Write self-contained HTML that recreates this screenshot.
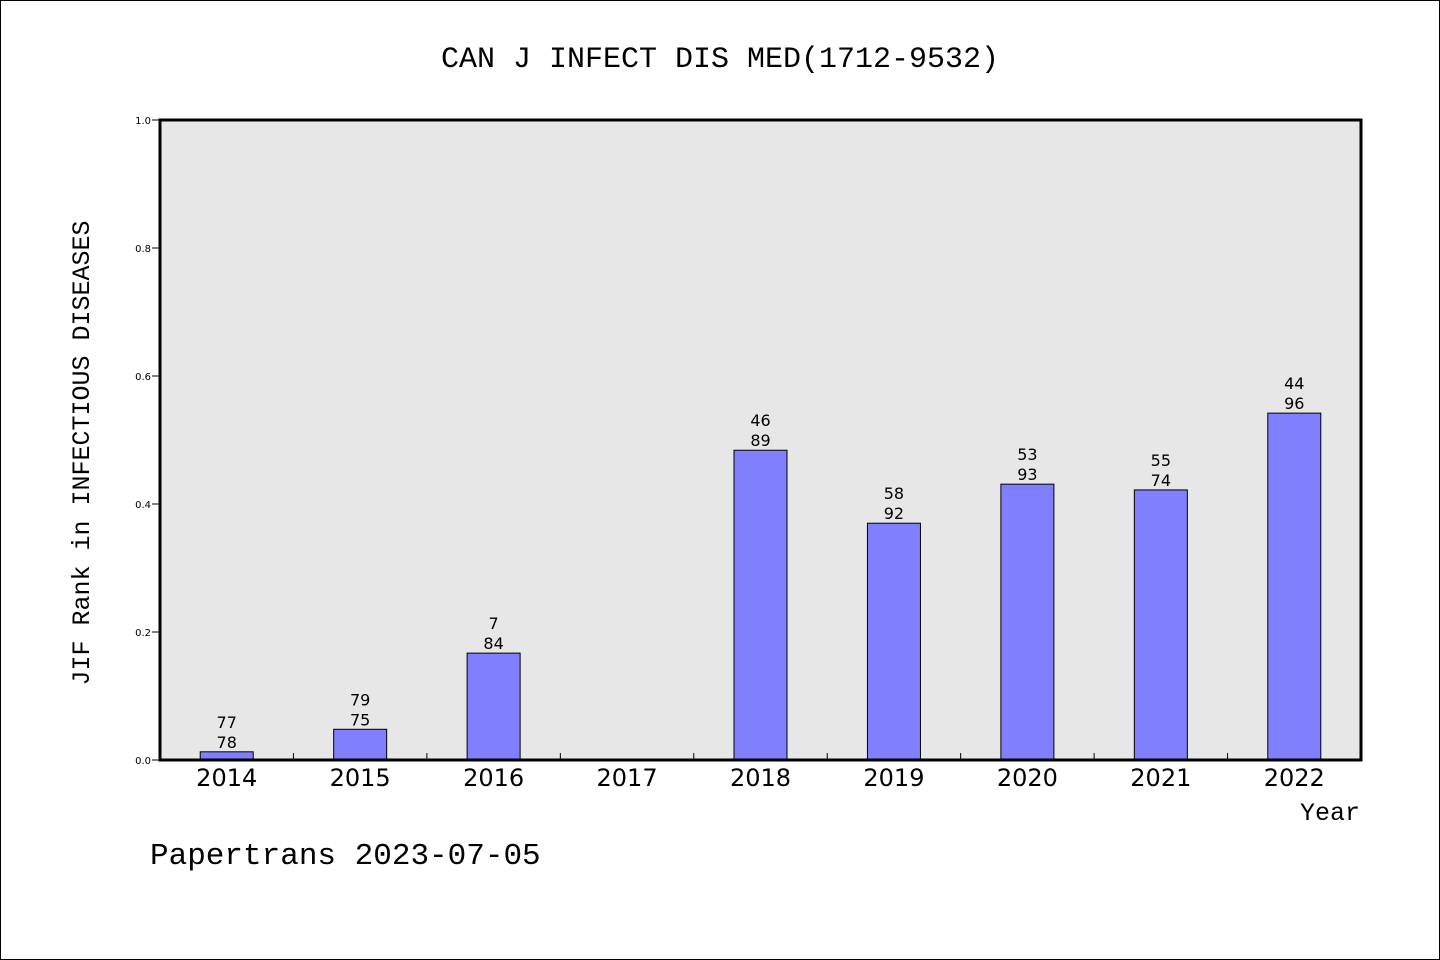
<!DOCTYPE html>
<html><head><meta charset="utf-8"><style>
body{margin:0;background:#fff}
svg{display:block}
</style></head><body>
<svg id="chart" width="1440" height="960" xmlns="http://www.w3.org/2000/svg">
<rect x="0.5" y="0.5" width="1439" height="959" fill="#fff" stroke="#000"/>
<text x="720" y="67" text-anchor="middle" font-family="Liberation Mono, monospace" font-size="30">CAN J INFECT DIS MED(1712-9532)</text>
<rect x="160" y="120" width="1201" height="640" fill="#e7e7e7"/>
<g id="bars"></g>
<rect x="160" y="120" width="1201" height="640" fill="none" stroke="#000" stroke-width="3"/>
<text transform="translate(89,453) rotate(-90)" text-anchor="middle" font-family="Liberation Mono, monospace" font-size="25">JIF Rank in INFECTIOUS DISEASES</text>
<text x="1360" y="820" text-anchor="end" font-family="Liberation Mono, monospace" font-size="25">Year</text>
<text x="150" y="864" font-family="Liberation Mono, monospace" font-size="31">Papertrans 2023-07-05</text>
</svg>
<script>
const years=['2014','2015','2016','2017','2018','2019','2020','2021','2022'];
const values=[0.0128,0.048,0.167,null,0.484,0.370,0.431,0.422,0.542];
const ranks=['77','79','7','','46','58','53','55','44'];
const totals=['78','75','84','','89','92','93','74','96'];
const yTicks=[0,0.2,0.4,0.6,0.8,1.0];
const L=160,R=1361,T=120,B=760;
const bw=(R-L)/years.length;
const xc=i=>L+bw*(i+0.5);
const y=v=>B-(B-T)*v;
const NS='http://www.w3.org/2000/svg';
const svg=document.getElementById('chart');
const g=document.getElementById('bars');
function mk(t,a,p){const e=document.createElementNS(NS,t);for(const k in a)e.setAttribute(k,a[k]);(p||svg).appendChild(e);return e;}
yTicks.forEach(v=>{
  const l=mk('line',{x1:152,x2:160,y1:y(v),y2:y(v),stroke:'#000'});
  
  
  const t=mk('text',{x:151,y:y(v)+4,'text-anchor':'end','font-family':'DejaVu Sans, sans-serif','font-size':10});
  t.textContent=v.toFixed(1);
  
  
});
years.forEach((yr,i)=>{
  if(i>0){
    const tk=mk('line',{x1:L+bw*i,x2:L+bw*i,y1:B,y2:B-7,stroke:'#000'});
    
    
  }
  const t=mk('text',{x:xc(i),y:B+26,'text-anchor':'middle','font-family':'DejaVu Sans, sans-serif','font-size':24});
  t.textContent=yr;
  
  
  const v=values[i];
  if(v==null)return;
  const r=mk('rect',{x:xc(i)-26.5,y:y(v),width:53,height:B-y(v),fill:'#8080ff',stroke:'#000','stroke-width':1},g);
  
  
  const a=mk('text',{x:xc(i),y:y(v)-24,'text-anchor':'middle','font-family':'DejaVu Sans, sans-serif','font-size':16},g);
  a.textContent=ranks[i];
  
  
  const b=mk('text',{x:xc(i),y:y(v)-4,'text-anchor':'middle','font-family':'DejaVu Sans, sans-serif','font-size':16},g);
  b.textContent=totals[i];
  
  
});
</script>
</body></html>
